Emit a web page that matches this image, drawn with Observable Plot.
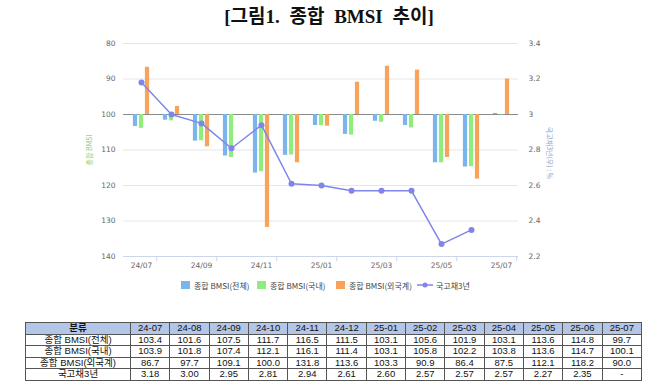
<!DOCTYPE html>
<html>
<head>
<meta charset="utf-8">
<script src="https://cdn.jsdelivr.net/npm/d3@7"></script>
<script src="https://cdn.jsdelivr.net/npm/@observablehq/plot@0.6"></script>
<style>
  html, body { margin:0; padding:0; background:#fff; }
  body { position:relative; width:658px; height:389px; overflow:hidden; font-family:"Liberation Sans","Noto Sans CJK KR",sans-serif; }
  #title { position:absolute; left:0; top:6px; width:658px; text-align:center; font-family:"Liberation Serif","Noto Sans CJK KR",serif; font-weight:bold; font-size:19px; word-spacing:5px; color:#111; line-height:22px; }
  #chart { position:absolute; left:0; top:34px; }
  .axt { position:absolute; width:80px; height:10px; line-height:10px; text-align:center; font-size:7px; font-family:"Noto Sans CJK KR",sans-serif; white-space:nowrap; }
  #lt { left:49px; top:145px; transform:rotate(-90deg); color:#8cc96a; }
  #rt { left:510px; top:148px; transform:rotate(90deg); color:#8ca5c8; }
  #legend { position:absolute; left:0; top:279px; width:658px; height:14px; font-size:8px; color:#444; font-family:"Noto Sans CJK KR",sans-serif; }
  .li { position:absolute; top:0; display:flex; align-items:center; height:12px; white-space:nowrap; }
  .sw { display:inline-block; width:9px; height:8px; margin-right:4px; }
  #tbl { position:absolute; left:25px; top:322px; border-collapse:collapse; font-size:9.5px; line-height:10px; color:#111; font-family:"Liberation Sans","Noto Sans CJK KR",sans-serif; table-layout:fixed; width:617px; border:1.5px solid #333; }
  #tbl td { border:1px solid #555; text-align:center; padding:0; height:10.5px; }
  #tbl tr.hd td { background:#b4c6e7; }
</style>
</head>
<body>
<div id="title">[그림1. 종합 BMSI 추이]</div>
<div id="chart"></div>
<div id="lt" class="axt"></div>
<div id="rt" class="axt"></div>
<div id="legend"></div>
<table id="tbl"></table>
<script>
const months = ["24-07","24-08","24-09","24-10","24-11","24-12","25-01","25-02","25-03","25-04","25-05","25-06","25-07"];
const bmsiTotal    = [103.4,101.6,107.5,111.7,116.5,111.5,103.1,105.6,101.9,103.1,113.6,114.8,99.7];
const bmsiDomestic = [103.9,101.8,107.4,112.1,116.1,111.4,103.1,105.8,102.2,103.8,113.6,114.7,100.1];
const bmsiForeign  = [86.7,97.7,109.1,100.0,131.8,113.6,103.3,90.9,86.4,87.5,112.1,118.2,90.0];
const treasury3y   = [3.18,3.00,2.95,2.81,2.94,2.61,2.60,2.57,2.57,2.57,2.27,2.35,null];
const seriesNames  = ["종합 BMSI(전체)","종합 BMSI(국내)","종합 BMSI(외국계)","국고채3년"];
const tableHeader  = "분류";
const leftTicks    = [80,90,100,110,120,130,140];
const leftTitle    = "종합 BMSI";
const rightTitle   = "국고채3년(우) : %";

const colors = ["#7cb5ec","#90ed7d","#f7a35c","#8085e9"];

const W = 658, H = 242, ml = 123, mr = 140, mt = 9, mb = 20;
const bw = (W - ml - mr) / months.length;
const barW = 4.6;
const inset = (bw - barW) / 2;
// dual axis mapping: left 80..140 <-> right 3.4..2.2
const toLeft = r => 80 + (3.4 - r) * 50;
const toRight = v => +(3.4 - (v - 80) * 0.02).toFixed(1);

const rows = months.map((m, i) => ({month: m, total: bmsiTotal[i], dom: bmsiDomestic[i], fgn: bmsiForeign[i], t3: treasury3y[i]}));
const lineRows = rows.filter(d => d.t3 != null);
const keys = ["total","dom","fgn"];
const offsets = [-6, 0, 6];
const labelMonths = months.filter((d, i) => i % 2 === 0);

const chart = Plot.plot({
  width: W, height: H, marginLeft: ml, marginRight: mr, marginTop: mt, marginBottom: mb,
  x: {type: "band", domain: months, padding: 0},
  y: {domain: [80, 140], reverse: true},
  style: {fontFamily: "'DejaVu Sans', sans-serif", fontSize: "7.5px", color: "#666", background: "#fff"},
  marks: [
    Plot.gridY(leftTicks, {stroke: "#e6e6e6", strokeOpacity: 1}),
    Plot.ruleY([140], {stroke: "#ccd6eb"}),
    Plot.ruleY([100], {stroke: "#8a8a8a", strokeWidth: 1}),
    ...keys.map((k, j) => Plot.barY(rows, {x: "month", y1: 100, y2: k, fill: colors[j], dx: offsets[j], insetLeft: inset, insetRight: inset})),
    Plot.line(lineRows, {x: "month", y: d => toLeft(d.t3), stroke: colors[3], strokeWidth: 1.5}),
    Plot.dot(lineRows, {x: "month", y: d => toLeft(d.t3), fill: colors[3], r: 3}),
    Plot.link(labelMonths, {x1: d => d, x2: d => d, y1: () => 140, y2: () => 141.3, dx: bw / 2, stroke: "#ccd6eb", strokeWidth: 1}),
    Plot.axisY(leftTicks, {anchor: "left", tickSize: 0, tickPadding: 8, label: null, fill: "#666"}),
    Plot.axisY(leftTicks, {anchor: "right", tickSize: 0, tickPadding: 10, label: null, fill: "#666", tickFormat: v => String(toRight(v))}),
    Plot.axisX(labelMonths, {anchor: "bottom", tickSize: 0, tickPadding: 6, label: null, fill: "#666", tickFormat: d => d.replace("-", "/")})
  ]
});
document.getElementById("chart").appendChild(chart);
document.getElementById("lt").textContent = leftTitle;
document.getElementById("rt").textContent = rightTitle;

// legend
const legend = document.getElementById("legend");
const legX = [181, 257, 336, 417];
seriesNames.forEach((n, i) => {
  const el = document.createElement("div");
  el.className = "li";
  el.style.left = legX[i] + "px";
  if (i < 3) {
    el.innerHTML = `<span class="sw" style="background:${colors[i]}"></span>${n}`;
  } else {
    el.innerHTML = `<svg width="16" height="8" style="margin-right:3px"><line x1="0" y1="4" x2="16" y2="4" stroke="${colors[3]}" stroke-width="1.5"/><circle cx="8" cy="4" r="2.5" fill="${colors[3]}"/></svg>${n}`;
  }
  legend.appendChild(el);
});

// table
const tbl = document.getElementById("tbl");
let html = `<colgroup><col style="width:105px">${months.map(() => "<col>").join("")}</colgroup>`;
html += `<tr class="hd"><td style="font-weight:bold">${tableHeader}</td>${months.map(m => `<td>${m}</td>`).join("")}</tr>`;
const tRows = [bmsiTotal, bmsiDomestic, bmsiForeign];
tRows.forEach((arr, i) => {
  html += `<tr><td>${seriesNames[i]}</td>${arr.map(v => `<td>${v.toFixed(1)}</td>`).join("")}</tr>`;
});
html += `<tr><td>${seriesNames[3]}</td>${treasury3y.map(v => `<td>${v == null ? "-" : v.toFixed(2)}</td>`).join("")}</tr>`;
tbl.innerHTML = html;
</script>
</body>
</html>
